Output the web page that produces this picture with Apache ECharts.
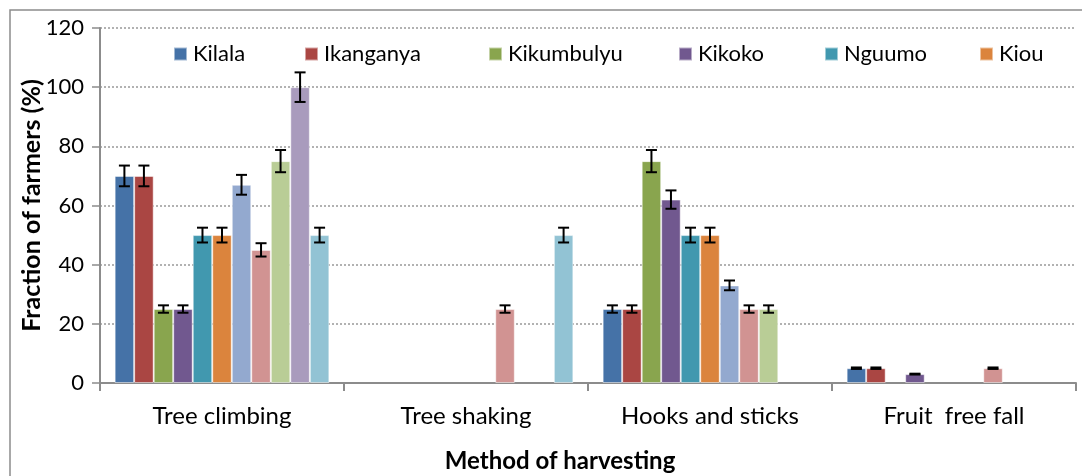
<!DOCTYPE html>
<html>
<head>
<meta charset="utf-8">
<script src="https://cdn.jsdelivr.net/npm/echarts@6/dist/echarts.min.js"></script>
<style>
	html, body { margin: 0; padding: 0; background: #fff; }
	#chart { width: 1082px; height: 476px; }
</style>
</head>
<body>
<div id="chart"></div>
<script>
var categories = ["Tree climbing", "Tree shaking", "Hooks and sticks", "Fruit  free fall"];
var seriesNames = ["Kilala", "Ikanganya", "Kikumbulyu", "Kikoko", "Nguumo", "Kiou",
	"Series 7", "Series 8", "Series 9", "Series 10", "Series 11"];
// values per series, one per category (null = no bar)
var kilala     = [70, null, 25, 5];
var ikanganya  = [70, null, 25, 5];
var kikumbulyu = [25, null, 75, null];
var kikoko     = [25, null, 62, 3];
var nguumo     = [50, null, 50, null];
var kiou       = [50, null, 50, null];
var series7    = [67, null, 33, null];
var series8    = [45, 25, 25, 5];
var series9    = [75, null, 25, null];
var series10   = [100, null, null, null];
var series11   = [50, 50, null, null];
// error bar half-lengths, same layout
var errKilala     = [3.5, null, 1.25, 0.25];
var errIkanganya  = [3.5, null, 1.25, 0.25];
var errKikumbulyu = [1.25, null, 3.75, null];
var errKikoko     = [1.25, null, 3.1, 0.15];
var errNguumo     = [2.5, null, 2.5, null];
var errKiou       = [2.5, null, 2.5, null];
var errSeries7    = [3.35, null, 1.65, null];
var errSeries8    = [2.25, 1.25, 1.25, 0.25];
var errSeries9    = [3.75, null, 1.25, null];
var errSeries10   = [5, null, null, null];
var errSeries11   = [2.5, 2.5, null, null];
var yTicks = [0, 20, 40, 60, 80, 100, 120];

var values = [kilala, ikanganya, kikumbulyu, kikoko, nguumo, kiou, series7, series8, series9, series10, series11];
var errors = [errKilala, errIkanganya, errKikumbulyu, errKikoko, errNguumo, errKiou,
	errSeries7, errSeries8, errSeries9, errSeries10, errSeries11];
var colors = ["#4572A7", "#AA4643", "#89A54E", "#71588F", "#4198AF", "#DB843D",
	"#93A9CF", "#D19392", "#B9CD96", "#A99BBD", "#92C3D4"];
var legendLeft = [168, 299, 483, 673, 819, 974];

var FONT = "Lato";
var CAT_GAP = 0.12;
var nSeries = values.length;

var chart = echarts.init(document.getElementById("chart"));

var barSeries = values.map(function (v, i) {
	return {
		name: seriesNames[i],
		type: "bar",
		data: v,
		barGap: "0%",
		barCategoryGap: (CAT_GAP * 100) + "%",
		itemStyle: { color: colors[i], borderColor: "rgba(255,255,255,0.5)", borderWidth: 1 },
		silent: true
	};
});

var errData = [];
values.forEach(function (v, k) {
	v.forEach(function (val, c) {
		if (val != null) errData.push([c, k, val, errors[k][c]]);
	});
});

var errSeries = {
	type: "custom",
	data: errData,
	z: 10,
	silent: true,
	renderItem: function (params, api) {
		var c = api.value(0), k = api.value(1), val = api.value(2), e = api.value(3);
		var band = api.size([1, 0])[0];
		var inner = band * (1 - CAT_GAP);
		var bw = inner / nSeries;
		var center = api.coord([c, val]);
		var x = center[0] - inner / 2 + bw * (k + 0.5);
		var top = api.coord([c, val + e])[1];
		var bot = api.coord([c, val - e])[1];
		var cap = 5.5;
		var st = { stroke: "#000", lineWidth: 2 };
		return {
			type: "group",
			children: [
				{ type: "line", shape: { x1: x, y1: top, x2: x, y2: bot }, style: st },
				{ type: "line", shape: { x1: x - cap, y1: top, x2: x + cap, y2: top }, style: st },
				{ type: "line", shape: { x1: x - cap, y1: bot, x2: x + cap, y2: bot }, style: st }
			]
		};
	}
};

var legends = legendLeft.map(function (l, i) {
	return {
		data: [seriesNames[i]],
		left: l,
		top: 38,
		itemWidth: 13,
		itemHeight: 13,
		icon: "rect",
		itemGap: 4,
		textStyle: { fontFamily: FONT, fontSize: 22, color: "#000", padding: [0, 0, 0, 1] }
	};
});

var option = {
	animation: false,
	graphic: [{
		type: "rect",
		shape: { x: 10, y: 10, width: 1100, height: 500 },
		style: { fill: null, stroke: "#8c8c8c", lineWidth: 1.5 },
		silent: true
	}],
	legend: legends,
	grid: { left: 100, right: 6, top: 28, bottom: 93, outerBoundsMode: "none", containLabel: false },
	xAxis: {
		type: "category",
		data: categories,
		name: "Method of harvesting",
		nameLocation: "middle",
		nameGap: 66,
		nameMoveOverlap: false,
		nameTextStyle: { fontFamily: FONT, fontSize: 24, fontWeight: "bold", color: "#000", padding: [0, 56, 0, 0] },
		axisLine: { lineStyle: { color: "#8c8c8c", width: 2 } },
		axisTick: { show: true, length: 8, lineStyle: { color: "#8c8c8c", width: 2 } },
		axisLabel: { margin: 21, fontFamily: FONT, fontSize: 24, color: "#000" }
	},
	yAxis: {
		type: "value",
		min: yTicks[0],
		max: yTicks[yTicks.length - 1],
		interval: yTicks[1] - yTicks[0],
		name: "Fraction of farmers (%)",
		nameLocation: "middle",
		nameGap: 56,
		nameMoveOverlap: false,
		nameTextStyle: { fontFamily: FONT, fontSize: 25, fontWeight: "bold", color: "#000" },
		axisLine: { show: true, lineStyle: { color: "#8c8c8c", width: 2 } },
		axisTick: { show: true, length: 8, lineStyle: { color: "#8c8c8c", width: 1.5 } },
		axisLabel: { margin: 16, fontFamily: FONT, fontSize: 22, color: "#000" },
		splitLine: { lineStyle: { color: "#999", type: [2, 2], width: 1.5 } }
	},
	series: barSeries.concat([errSeries])
};

chart.setOption(option);
</script>
</body>
</html>
